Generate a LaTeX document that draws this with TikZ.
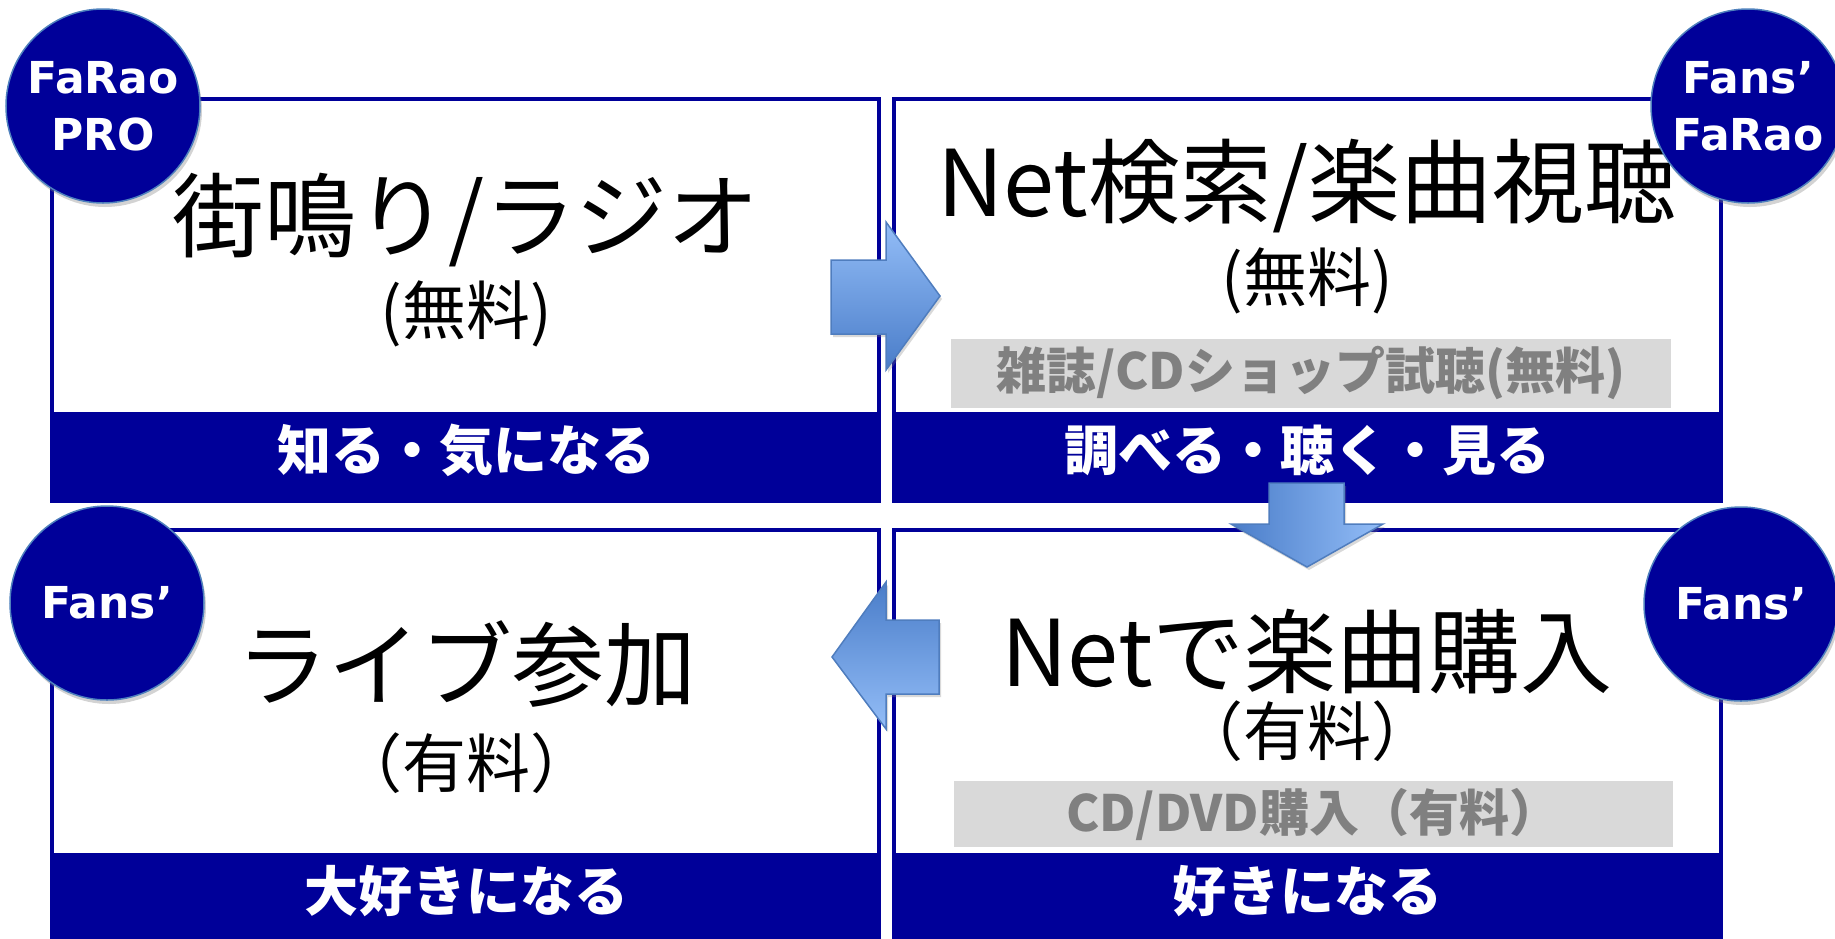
\documentclass[tikz,border=0pt]{standalone}
\usepackage{fontspec}
\newfontfamily\jp{Noto Sans CJK JP}
\newfontfamily\lat{DejaVu Sans}
\usetikzlibrary{shadows}
\definecolor{bandblue}{RGB}{0,0,153}
\definecolor{rimblue}{RGB}{79,129,189}
\definecolor{arrowlight}{RGB}{147,189,247}
\definecolor{arrowdark}{RGB}{74,125,201}
\definecolor{arrowrim}{RGB}{79,125,190}
\definecolor{graybox}{RGB}{217,217,217}
\definecolor{graytext}{RGB}{128,128,128}
\begin{document}
\begin{tikzpicture}[x=1pt,y=-1pt,
  boxframe/.style={draw=bandblue, line width=3.5pt},
  band/.style={fill=bandblue},
  grayfill/.style={fill=graybox},
  bigtext/.style={font=\jp\fontsize{92}{100}\selectfont, text=black, inner sep=0pt},
  paytext/.style={font=\jp\fontsize{64}{70}\selectfont, text=black, inner sep=0pt},
  graylabel/.style={font=\jp\bfseries\fontsize{50}{56}\selectfont, text=graytext, inner sep=0pt},
  bandlabel/.style={font=\jp\bfseries\fontsize{54}{60}\selectfont, text=white, inner sep=0pt},
  badge/.style={circle, minimum size=194pt, inner sep=0pt, fill=bandblue, draw=rimblue, line width=1.5pt,
    text=white, align=center, font=\lat\bfseries\fontsize{44}{57}\selectfont,
    drop shadow={opacity=0.35, shadow xshift=2pt, shadow yshift=-4pt}},
  blockarrow/.style={draw=arrowrim, line width=1.5pt, line join=miter,
    drop shadow={opacity=0.3, shadow xshift=2pt, shadow yshift=-3pt}}]
\useasboundingbox (0,0) rectangle (1835,938);

% boxes
\draw[boxframe] (52,99) rectangle (879,501);
\fill[band] (52,412) rectangle (879,501);
\draw[boxframe] (894,99) rectangle (1721,501);
\fill[band] (894,412) rectangle (1721,501);
\draw[boxframe] (52,530) rectangle (879,940);
\fill[band] (52,853) rectangle (879,940);
\draw[boxframe] (894,530) rectangle (1721,940);
\fill[band] (894,853) rectangle (1721,940);

% gray boxes
\fill[grayfill] (951,339) rectangle (1671,408);
\fill[grayfill] (954,781) rectangle (1673,847);

% texts
\node[bigtext] (t1) at (466,220) {街鳴り/ラジオ};
\node[paytext] (t1b) at (466,314) {(無料)};
\node[bigtext] (t2) at (1307,186) {Net検索/楽曲視聴};
\node[paytext] (t2b) at (1307,281) {(無料)};
\node[graylabel] (g1) at (1311,373) {雑誌/CDショップ試聴(無料)};
\node[bandlabel] (b1) at (466,450) {知る・気になる};
\node[bandlabel] (b2) at (1307,450) {調べる・聴く・見る};

\node[bigtext] (t3) at (466,664) {ライブ参加};
\node[paytext] (t3b) at (466,763) {（有料）};
\node[bigtext] (t4) at (1307,652) {Netで楽曲購入};
\node[paytext] (t4b) at (1307,731) {（有料）};
\node[graylabel] (g2) at (1313,814) {CD/DVD購入（有料）};
\node[bandlabel] (b3) at (466,891) {大好きになる};
\node[bandlabel] (b4) at (1307,891) {好きになる};

% block arrows
\path[blockarrow, top color=arrowlight, bottom color=arrowdark]
  (831,260) -- (886,260) -- (886,222) -- (940,296) -- (886,370) -- (886,334) -- (831,334) -- cycle;
\path[blockarrow, left color=arrowdark, right color=arrowlight]
  (1269,483) -- (1344,483) -- (1344,524) -- (1383,524) -- (1307,567) -- (1231,524) -- (1269,524) -- cycle;
\path[blockarrow, top color=arrowdark, bottom color=arrowlight]
  (939,620) -- (886,620) -- (886,582) -- (832,657) -- (886,729) -- (886,694) -- (939,694) -- cycle;

% badges
\node[badge] (c1) at (103,106) {FaRao\\PRO};
\node[badge] (c2) at (1748,106) {Fans’\\FaRao};
\node[badge] (c3) at (107,603) {Fans’};
\node[badge] (c4) at (1741,604) {Fans’};
\end{tikzpicture}
\end{document}
